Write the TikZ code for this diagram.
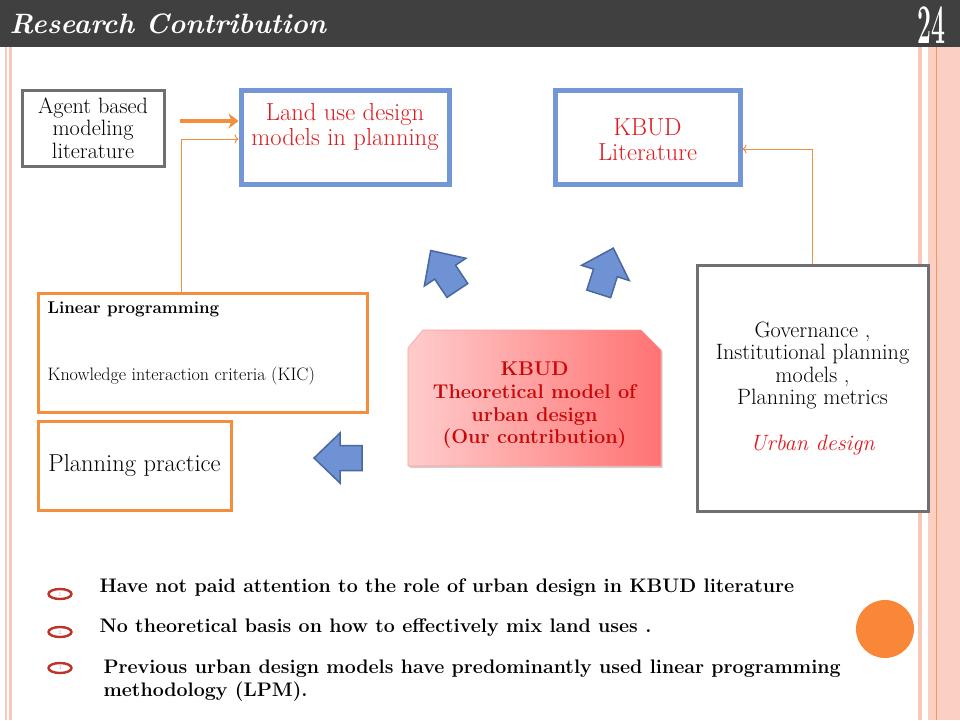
\documentclass[tikz,border=0pt]{standalone}
\usepackage{fontspec}
\usetikzlibrary{arrows.meta,shapes.geometric,shadows}
\definecolor{barGray}{RGB}{64,64,64}
\definecolor{stripePink}{RGB}{250,200,184}
\definecolor{stripeOrange}{RGB}{244,150,100}
\definecolor{frameGray}{RGB}{110,112,116}
\definecolor{boxBlue}{RGB}{114,150,214}
\definecolor{boxOrange}{RGB}{242,142,62}
\definecolor{textRed}{RGB}{224,26,30}
\definecolor{darkRed}{RGB}{200,8,8}
\definecolor{arrowBlue}{RGB}{110,146,212}
\definecolor{arrowEdge}{RGB}{72,104,162}
\definecolor{bulletRed}{RGB}{190,50,40}
\definecolor{dotOrange}{RGB}{250,135,55}
% block arrow: centre x, centre y, direction
\newcommand{\blockarrowat}[3]{%
  \draw[blockarrow,shift={(#1,#2)},rotate=#3] (24,0) -- (-2,25) -- (-2,12.5) -- (-24,12.5)
    -- (-24,-12.5) -- (-2,-12.5) -- (-2,-25) -- cycle;}
\begin{document}
\begin{tikzpicture}[x=1pt,y=-1pt,
  greybox/.style={draw=frameGray,line width=3pt,fill=white,inner sep=0pt},
  bluebox/.style={draw=boxBlue,line width=5pt,fill=white,inner sep=0pt},
  orangebox/.style={draw=boxOrange,line width=3pt,fill=white,inner sep=0pt},
  redtxt/.style={text=textRed,align=center,font=\fontsize{24.6}{25}\selectfont},
  blktxt/.style={align=center,font=\fontsize{22.2}{22.5}\selectfont},
  link/.style={draw=boxOrange,line width=1pt,-{To[length=4pt,width=9pt]}},
  blockarrow/.style={fill=arrowBlue,draw=arrowEdge,line width=1.5pt,line join=miter},
  numbullet/.style={ellipse,draw=bulletRed,line width=2.4pt,minimum width=23pt,minimum height=10pt,
    inner sep=0pt,font=\fontsize{6}{6}\selectfont,text=gray!60},
  point/.style={anchor=west,align=left,font=\fontsize{19.6}{23}\selectfont\bfseries}]
	\useasboundingbox (0,0) rectangle (960,720);
	\fill[white] (0,0) rectangle (960,720);
	% frame of the slide
	\fill[barGray] (0,0) rectangle (960,47);
	\fill[stripePink] (5,47) rectangle (7,720);
	\fill[stripePink] (8.5,47) rectangle (11.5,720);
	\fill[stripePink] (918,47) rectangle (922,720);
	\fill[stripePink!85] (928,47) rectangle (960,720);
	\draw[stripeOrange,line width=1pt] (936,47) -- (936,720);
	\node[anchor=west,text=white,font=\fontsize{28}{28}\selectfont\bfseries\itshape] (title) at (6,24) {Research Contribution};
	\node[text=white] (slideno) at (931,25) {\scalebox{0.62}[1.4]{\fontsize{40}{40}\selectfont\bfseries 24}};
	% boxes
	\node[greybox,minimum width=142pt,minimum height=76pt,blktxt] (agent) at (93,128) {Agent based\\modeling\\literature};
	\node[bluebox,minimum width=208pt,minimum height=94pt] (landuse) at (345,137) {};
	\node[redtxt,below=12pt] (landusetxt) at (landuse.north) {Land use design\\models in planning};
	\node[bluebox,minimum width=185pt,minimum height=94pt,redtxt] (kbudlit) at (647.5,137) {\\[-3pt]KBUD\\Literature};
	\node[orangebox,minimum width=329pt,minimum height=119pt] (lp) at (202.5,352.5) {};
	\node[anchor=west,font=\fontsize{17}{17}\selectfont\bfseries] (lptitle) at (44,309) {Linear programming};
	\node[anchor=west,font=\fontsize{18.05}{18}\selectfont] (kic) at (44,376) {Knowledge interaction criteria (KIC)};
	\node[orangebox,minimum width=193pt,minimum height=89pt,font=\fontsize{24.5}{24.5}\selectfont] (practice) at (134.5,465.5) {Planning practice};
	\node[greybox,minimum width=231pt,minimum height=246pt,blktxt] (gov) at (812.5,388)
		{Governance ,\\Institutional planning\\models ,\\Planning metrics\\[23pt]{\color{textRed}\itshape Urban design}};
	% our contribution, box with cut top corners
	\path[left color=red!20,right color=red!55!white,draw=red!40,line width=0.6pt,
		drop shadow={shadow xshift=1.5pt,shadow yshift=-2pt,opacity=0.35}]
		(408,466) -- (408,348) -- (423,330) -- (641,330) -- (661,350) -- (661,466) -- cycle;
	\node[text=darkRed,align=center,font=\fontsize{19.9}{22.6}\selectfont\bfseries] (contrib) at (534.5,405.5)
		{KBUD\\Theoretical model of\\urban design\\(Our contribution)};
	% links
	\coordinate (abmstart) at (180,121);
	\draw[boxOrange,line width=3.5pt,-{Stealth[length=10pt,width=15pt,inset=3pt]}] (abmstart) -- (abmstart -| landuse.west);
	\draw[link] (lp.north -| 181,0) |- ([yshift=-2pt]landuse.west);
	\draw[link] (gov.north) |- ([yshift=-12pt]kbudlit.east);
	% block arrows
	\blockarrowat{444}{270.5}{123.7}
	\blockarrowat{606}{271}{72.3}
	\blockarrowat{338}{458}{180}
	% the three points
	\node[numbullet] (b1) at (60,594) {1};
	\node[numbullet] (b2) at (60,632) {2};
	\node[numbullet] (b3) at (60,668) {3};
	\node[point] (p1) at (96,588) {Have not paid attention to the role of urban design in KBUD literature};
	\node[point] (p2) at (96,628) {No theoretical basis on how to effectively mix land uses .};
	\node[point] (p3) at (100,681) {Previous urban design models have predominantly used linear programming\\methodology (LPM).};
	\fill[dotOrange] (885,629) circle (29);
\end{tikzpicture}
\end{document}
